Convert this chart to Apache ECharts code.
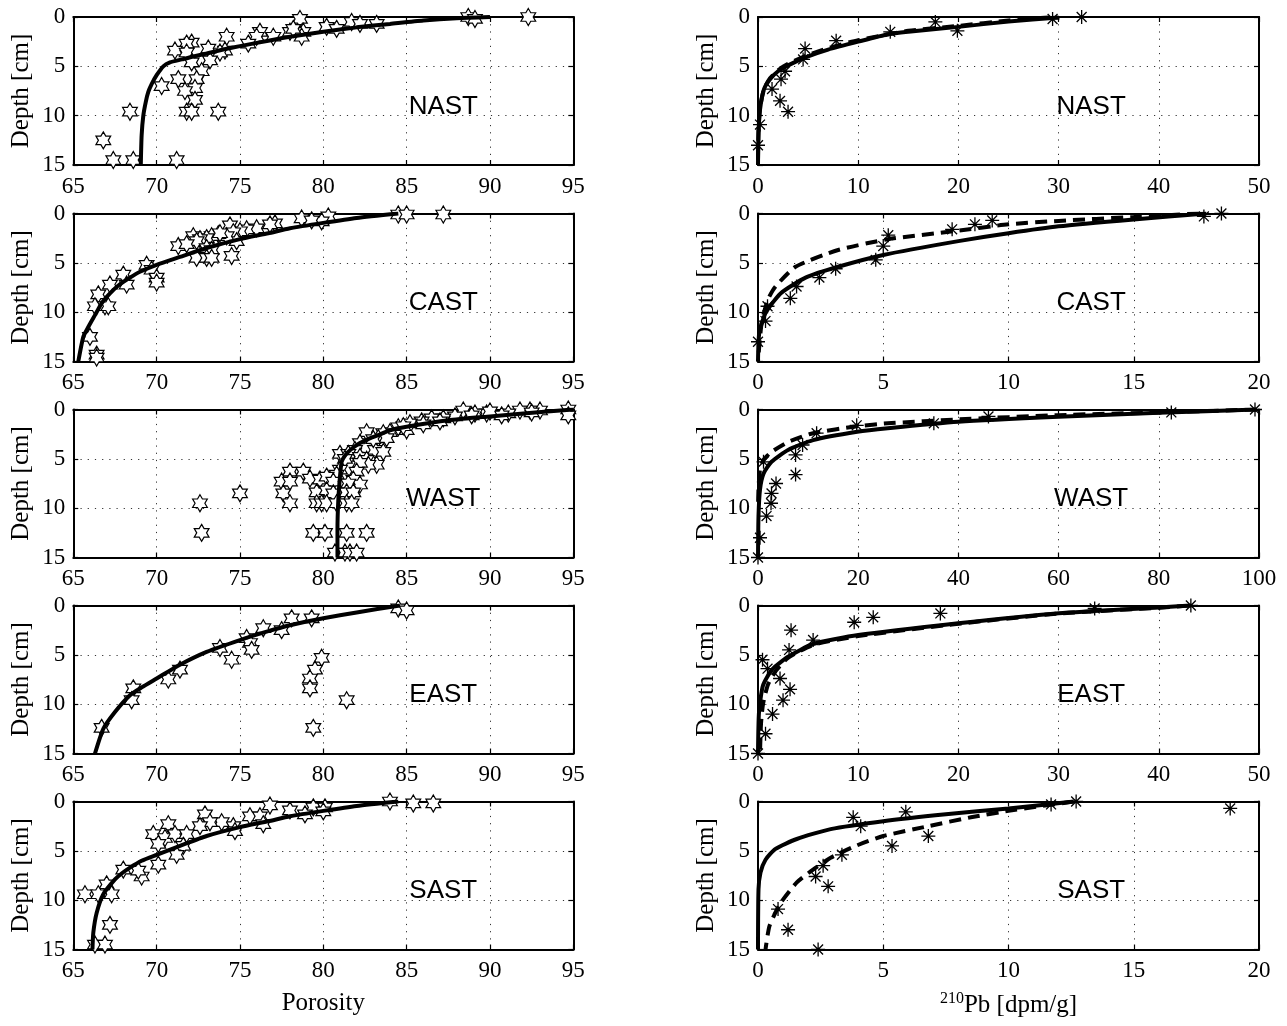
<!DOCTYPE html>
<html>
<head>
<meta charset="utf-8">
<script src="https://cdn.jsdelivr.net/npm/echarts@6/dist/echarts.min.js"></script>
<style>html,body{margin:0;padding:0;background:#fff}#c{width:1287px;height:1026px}</style>
</head>
<body>
<div id="c"></div>
<script>
// ---------- DATA ----------
const stations = ['NAST', 'CAST', 'WAST', 'EAST', 'SAST'];
const porosityTicks = [65, 70, 75, 80, 85, 90, 95];
const depthTicks = [0, 5, 10, 15];
const pbMax = [50, 20, 100, 50, 20];
const pbStep = [10, 5, 20, 10, 5];

// porosity measurements [porosity, depth]
const nastPorPts = [[78.6,0.2],[88.7,0],[89.1,0.2],[92.3,0],[80.2,1.0],[80.8,1.2],[81.7,0.5],[82.2,0.7],[83.2,0.7],[78.0,1.5],[78.8,1.5],[78.7,2.0],[78.2,1.2],[77.0,2.0],[76.2,1.5],[76.0,2.0],[75.5,2.7],[74.2,2.0],[74.1,3.4],[73.8,3.6],[73.1,3.2],[73.2,4.4],[72.1,2.6],[71.8,2.7],[71.1,3.4],[71.8,3.6],[72.1,4.6],[72.7,5.5],[72.4,6.3],[71.3,6.3],[72.3,7.2],[71.7,7.5],[72.3,8.4],[70.3,7.0],[71.8,9.6],[72.1,9.6],[73.7,9.6],[68.4,9.6],[66.8,12.5],[67.4,14.5],[68.6,14.5],[71.2,14.5]];
const castPorPts = [[84.5,0.1],[85.0,0.1],[87.2,0.1],[80.3,0.3],[79.9,0.8],[78.7,0.5],[79.3,0.7],[77.1,1.0],[76.8,1.1],[76.0,1.5],[75.4,1.6],[75.0,1.8],[74.4,1.2],[74.6,1.9],[74.8,2.8],[74.2,2.3],[73.7,2.1],[73.3,2.3],[73.0,2.5],[73.8,2.0],[72.2,2.3],[72.6,2.6],[72.4,2.8],[71.3,3.3],[71.8,3.1],[73.0,3.5],[73.3,3.7],[72.4,4.5],[73.0,4.5],[73.3,4.5],[74.5,4.3],[69.4,5.2],[69.7,5.7],[68.0,6.2],[68.2,7.2],[67.2,7.2],[70.0,6.5],[70.0,7.0],[66.5,8.2],[66.3,9.4],[66.9,9.4],[67.1,9.4],[66.0,12.5],[66.4,14.3],[66.4,14.6]];
const wastPorPts = [[94.7,0],[94.7,0.6],[93,0.1],[92.4,0.1],[91.8,0.1],[91.1,0.4],[90.7,0.6],[89.8,0.4],[89.1,0.4],[88.4,0.1],[88.9,0.6],[87.9,0.7],[87.2,0.9],[86.5,0.9],[85.9,1.2],[85.2,1.4],[84.5,1.8],[85.0,2.1],[84.0,2.3],[83.6,2.4],[83.3,2.9],[82.6,2.3],[83.8,2.9],[82.2,3.4],[82.6,3.9],[83.1,4.1],[83.6,4.3],[81.9,4.1],[81.0,4.5],[81.5,4.5],[81.3,5.0],[82.2,4.8],[82.6,5.1],[83.2,5.6],[82.7,5.6],[82.2,5.4],[81.0,6.1],[80.8,6.6],[82.0,6.3],[81.8,7.1],[82.2,7.6],[81.5,7.5],[78.0,6.3],[78.8,6.3],[79.2,7.0],[79.8,7.1],[80.2,6.8],[80.6,7.3],[77.5,7.3],[78.0,7.3],[77.6,8.5],[78.0,9.5],[79.6,8.4],[80.2,8.2],[80.6,8.5],[81.4,8.4],[81.8,8.4],[79.6,9.5],[79.9,9.5],[80.2,9.5],[80.8,9.5],[81.4,9.5],[81.7,9.5],[75.0,8.5],[72.6,9.5],[72.7,12.5],[79.4,12.5],[80.1,12.5],[81.4,12.5],[82.6,12.5],[80.7,14.5],[81.3,14.5],[81.6,14.5],[82.0,14.5],[86.0,1.5],[87.0,1.2],[84.8,1.7],[83.0,3.0],[92.5,0.3],[90.0,0.2]];
const eastPorPts = [[84.5,0.3],[85.0,0.5],[78.1,1.3],[79.3,1.3],[77.5,2.5],[76.4,2.3],[75.4,3.3],[75.6,3.8],[75.7,4.5],[73.8,4.3],[74.5,5.5],[79.9,5.3],[79.5,6.5],[79.2,7.4],[79.2,8.4],[81.4,9.6],[79.4,12.4],[71.4,6.5],[70.7,7.5],[68.6,8.4],[68.5,9.6],[66.7,12.4]];
const sastPorPts = [[84.0,0],[85.4,0.2],[86.6,0.2],[76.8,0.4],[79.4,0.6],[80.1,0.6],[80.0,1.0],[78.0,0.9],[78.9,1.3],[75.6,1.5],[76.2,1.5],[76.4,2.3],[74.6,2.5],[74.7,3.0],[73.9,2.1],[72.9,1.3],[73.2,2.1],[72.6,2.5],[70.7,2.3],[69.8,3.3],[70.5,3.7],[70.1,4.3],[71.1,3.3],[71.8,3.3],[71.6,4.5],[71.2,5.4],[70.1,6.4],[69.1,7.6],[68.9,7.0],[68.0,6.9],[67.0,8.4],[65.7,9.4],[66.5,9.4],[67.3,9.4],[67.2,12.5],[66.3,14.5],[66.9,14.5]];

// porosity model curves [porosity, depth]
const nastPorFit = [[90,0],[88,0.12],[86,0.35],[84,0.7],[82,1.05],[80,1.5],[78,2.0],[76.7,2.4],[75,2.95],[74,3.3],[73,3.7],[72.2,4.0],[71.5,4.3],[70.8,4.6],[70.4,5.0],[70.0,5.9],[69.7,6.8],[69.5,7.6],[69.35,8.6],[69.2,10],[69.1,12],[69.05,15]];
const castPorFit = [[84.5,0],[82,0.45],[80,0.95],[78,1.5],[76.7,2.0],[75,2.6],[73,3.5],[71.4,4.4],[70,5.2],[69,5.9],[68.4,6.5],[67.7,7.3],[67.2,8.1],[66.7,9.1],[66.3,10.3],[65.9,11.5],[65.6,12.5],[65.3,15]];
const wastPorFit = [[95,0],[92,0.4],[90,0.7],[87.5,1.1],[85,1.75],[84,2.1],[83.3,2.6],[82.7,3.0],[82.2,3.4],[81.8,3.85],[81.5,4.3],[81.25,4.8],[81.1,5.3],[81.0,6.8],[80.9,9.2],[80.85,12.2],[80.85,15]];
const eastPorFit = [[84.6,0],[82,0.7],[80,1.3],[78,2.0],[76.7,2.6],[75,3.5],[73,4.7],[71.4,6.0],[70,7.4],[69.1,8.3],[68.4,9.1],[67.5,10.8],[66.8,12.5],[66.3,15]];
const sastPorFit = [[84.5,0],[82,0.45],[80,0.95],[78,1.5],[76.7,2.0],[75,2.6],[73,3.5],[71.4,4.5],[70,5.4],[69.1,6.0],[68.4,6.7],[67.9,7.3],[67.5,7.9],[66.8,9.4],[66.4,11.3],[66.2,13.3],[66.15,15]];

// 210Pb measurements [dpm/g, depth]
const nastPbPts = [[32.3,0],[29.4,0.2],[17.7,0.5],[19.9,1.4],[13.2,1.5],[7.8,2.4],[4.7,3.2],[4.5,4.3],[2.7,5.5],[2.3,6.3],[1.4,7.3],[2.2,8.5],[3.0,9.6],[0.2,10.9],[0,13.0]];
const castPbPts = [[18.5,0],[17.8,0.3],[9.35,0.7],[8.66,1.1],[7.75,1.6],[5.2,2.2],[5.0,3.3],[4.7,4.7],[3.1,5.6],[2.45,6.5],[1.54,7.4],[1.29,8.6],[0.38,9.4],[0.3,10.9],[0,13.0]];
const wastPbPts = [[99.2,0],[82.5,0.3],[46,0.7],[35.1,1.4],[19.7,1.6],[11.7,2.4],[8.9,3.6],[7.5,4.6],[7.5,6.6],[3.6,7.5],[2.7,8.5],[2.6,9.5],[1.7,10.8],[0.4,13.0],[0,15],[1.1,5.3]];
const eastPbPts = [[43.2,0],[33.6,0.3],[18.2,0.8],[11.5,1.2],[9.6,1.7],[3.3,2.5],[5.5,3.5],[3.1,4.5],[0.45,5.5],[0.95,6.4],[2.2,7.4],[3.2,8.5],[2.5,9.6],[1.45,11.0],[0.75,13.0],[0,15.0]];
const sastPbPts = [[18.85,0.7],[12.7,0],[11.7,0.3],[5.9,1.05],[3.8,1.6],[4.1,2.5],[6.8,3.5],[5.35,4.5],[3.35,5.4],[2.6,6.5],[2.3,7.6],[2.8,8.6],[0.8,10.9],[1.2,13.0],[2.4,15.0]];

// 210Pb model curves: solid (A) and dashed (B)
const nastPbFitA = [[30,0.05],[25,0.45],[20,1.0],[15,1.5],[13,1.75],[10,2.5],[7,3.3],[5,4.0],[3,4.9],[2,5.5],[1.2,6.3],[0.6,7.3],[0.2,9.4],[0.05,11.8],[0,15]];
const nastPbFitB = [[29,0.05],[25,0.35],[20,0.9],[15,1.4],[10,2.35],[7,3.15],[5,3.85],[3,4.75],[2,5.4],[1.2,6.2],[0.6,7.3],[0.2,9.2],[0.05,11.5],[0,14.5]];
const castPbFitA = [[17.9,0],[15,0.6],[12,1.3],[10,2.0],[8,2.8],[5,4.2],[3.2,5.4],[1.9,6.5],[0.9,8.1],[0.3,10.1],[0.05,12.1],[0,15]];
const castPbFitB = [[17.6,0],[15,0.35],[12,0.75],[10,1.1],[7.8,1.8],[5.2,2.6],[3.2,3.7],[1.5,5.4],[0.7,7.4],[0.4,8.7],[0.15,11],[0,15]];
const wastPbFitA = [[99.5,0],[80,0.34],[60,0.74],[40,1.25],[25.9,1.9],[19.8,2.26],[11,3.1],[6,4.1],[2.7,5.3],[1.1,6.5],[0.4,8.1],[0.1,10.8],[0,15]];
const wastPbFitB = [[99.5,0],[80,0.3],[60,0.57],[40,1.0],[25.9,1.4],[19.8,1.7],[11,2.4],[6,3.3],[2.7,4.3],[1.1,5.1],[0.4,6.1],[0.1,8],[0,10]];
const eastPbFitA = [[43.2,0],[40,0.2],[30,0.78],[20,1.8],[10,3.0],[5.5,3.9],[3,5.2],[1.4,6.5],[0.5,8.1],[0.1,10.8],[0,15]];
const eastPbFitB = [[43,0],[40,0.22],[30,0.82],[20,1.85],[10,3.1],[5.5,4.0],[3,5.3],[1.8,6.6],[1.0,8.0],[0.5,10],[0.3,12],[0.2,15]];
const sastPbFitA = [[12.6,0],[10,0.7],[7.5,1.3],[5,2.0],[2.9,2.8],[1.55,3.8],[0.7,4.8],[0.3,5.9],[0.1,7.2],[0.02,8.9],[0,15]];
const sastPbFitB = [[12.6,0],[10,0.95],[8.5,1.6],[6.8,2.5],[5,3.5],[3.9,4.5],[2.9,5.7],[2.2,6.9],[1.55,8.2],[0.9,10.3],[0.46,12.6],[0.3,15]];

const porPts = [nastPorPts, castPorPts, wastPorPts, eastPorPts, sastPorPts];
const porFit = [nastPorFit, castPorFit, wastPorFit, eastPorFit, sastPorFit];
const pbPts = [nastPbPts, castPbPts, wastPbPts, eastPbPts, sastPbPts];
const pbFitA = [nastPbFitA, castPbFitA, wastPbFitA, eastPbFitA, sastPbFitA];
const pbFitB = [nastPbFitB, castPbFitB, wastPbFitB, eastPbFitB, sastPbFitB];

// ---------- LAYOUT / STYLE ----------
const SERIF = 'Liberation Serif';
const SANS = 'Liberation Sans';
const tops = [17, 213.5, 409.5, 605.5, 801.5];
const H = 148;
const colLeft = [73.3, 758];
const colW = [500, 501];

function hexagramPath() {
  let s = '';
  for (let k = 0; k < 12; k++) {
    const a = (-90 + 30 * k) * Math.PI / 180;
    const r = (k % 2 === 0) ? 10 : 10 / Math.sqrt(3);
    s += (k === 0 ? 'M' : 'L') + (r * Math.cos(a)).toFixed(3) + ',' + (r * Math.sin(a)).toFixed(3);
  }
  return 'path://' + s + 'Z';
}
const HEX = hexagramPath();
const AST = 'path://M0,-10L0,10M-10,0L10,0M-7.07,-7.07L7.07,7.07M-7.07,7.07L7.07,-7.07';

const grids = [], xAxes = [], yAxes = [], series = [];
const gridLine = { show: true, lineStyle: { color: '#333', width: 1, type: [1.2, 6] } };
const frame = { show: true, onZero: false, lineStyle: { color: '#000', width: 2 } };
const tick = { show: true, inside: true, length: 5, lineStyle: { color: '#000', width: 1.2 } };

function addPanel(row, col) {
  const g = grids.length;
  grids.push({ left: colLeft[col], top: tops[row], width: colW[col], height: H, containLabel: false });
  const xmin = col === 0 ? porosityTicks[0] : 0;
  const xmax = col === 0 ? porosityTicks[porosityTicks.length - 1] : pbMax[row];
  const xint = col === 0 ? 5 : pbStep[row];
  const last = row === stations.length - 1;
  let xname = '', nameStyle = {};
  if (last && col === 0) {
    xname = 'Porosity';
    nameStyle = { fontFamily: SERIF, fontSize: 25, color: '#000' };
  } else if (last && col === 1) {
    xname = '{sup|210}{b|Pb [dpm/g]}';
    nameStyle = { fontFamily: SERIF, color: '#000', rich: {
      sup: { fontFamily: SERIF, fontSize: 16, color: '#000', padding: [0, 0, 11, 0], verticalAlign: 'bottom' },
      b: { fontFamily: SERIF, fontSize: 25, color: '#000', verticalAlign: 'bottom' } } };
  }
  xAxes.push({
    gridIndex: g, type: 'value', position: 'bottom', min: xmin, max: xmax, interval: xint,
    axisLine: frame, axisTick: tick, splitLine: gridLine,
    axisLabel: { show: true, margin: 10, fontFamily: SERIF, fontSize: 23, color: '#000', showMinLabel: true, showMaxLabel: true },
    name: xname, nameLocation: 'middle', nameGap: 41, nameTextStyle: nameStyle
  });
  xAxes.push({
    gridIndex: g, type: 'value', position: 'top', min: xmin, max: xmax, interval: xint,
    axisLine: frame, axisTick: tick, splitLine: { show: false }, axisLabel: { show: false }
  });
  yAxes.push({
    gridIndex: g, type: 'value', position: 'left', inverse: true,
    min: depthTicks[0], max: depthTicks[depthTicks.length - 1], interval: 5,
    axisLine: frame, axisTick: tick, splitLine: gridLine,
    axisLabel: { show: true, margin: 8, fontFamily: SERIF, fontSize: 23, color: '#000', showMinLabel: true, showMaxLabel: true },
    name: 'Depth [cm]', nameLocation: 'middle', nameGap: 39, nameRotate: 90,
    nameTextStyle: { fontFamily: SERIF, fontSize: 25, color: '#000' }
  });
  yAxes.push({
    gridIndex: g, type: 'value', position: 'right', inverse: true,
    min: depthTicks[0], max: depthTicks[depthTicks.length - 1], interval: 5,
    axisLine: frame, axisTick: tick, splitLine: { show: false }, axisLabel: { show: false }
  });
  const xi = 2 * g, yi = 2 * g;
  const pts = col === 0 ? porPts[row] : pbPts[row];
  series.push({
    type: 'scatter', xAxisIndex: xi, yAxisIndex: yi, data: pts, z: 2,
    symbol: col === 0 ? HEX : AST, symbolKeepAspect: true,
    symbolSize: col === 0 ? 17 : 14,
    itemStyle: col === 0 ? { color: '#fff', borderColor: '#000', borderWidth: 1.2, opacity: 1 }
                         : { color: 'rgba(0,0,0,0)', borderColor: '#000', borderWidth: 1.3, opacity: 1 },
    silent: true
  });
  const lineBase = { type: 'line', xAxisIndex: xi, yAxisIndex: yi, showSymbol: false, symbol: 'none', smooth: 0.2, z: 3, silent: true };
  if (col === 0) {
    series.push(Object.assign({}, lineBase, { data: porFit[row], lineStyle: { color: '#000', width: 4 } }));
  } else {
    series.push(Object.assign({}, lineBase, { data: pbFitB[row], lineStyle: { color: '#000', width: 4, type: [12, 7], cap: 'butt' } }));
    series.push(Object.assign({}, lineBase, { data: pbFitA[row], lineStyle: { color: '#000', width: 4 } }));
  }
  // station label, placed through the panel's own axes
  const lx = col === 0 ? xmin + 0.74 * (xmax - xmin) : xmin + 0.665 * (xmax - xmin);
  series.push({
    type: 'scatter', xAxisIndex: xi, yAxisIndex: yi, z: 5, silent: true,
    symbol: 'circle', symbolSize: 1, itemStyle: { color: 'rgba(255,255,255,0)', opacity: 1 },
    data: [[lx, 9.1]],
    label: { show: true, position: 'inside', formatter: stations[row], fontFamily: SANS, fontSize: 26,
             color: '#000', opacity: 1, textBorderWidth: 0 }
  });
}

for (let r = 0; r < stations.length; r++) { addPanel(r, 0); addPanel(r, 1); }

const chart = echarts.init(document.getElementById('c'), null, { renderer: 'canvas' });
chart.setOption({
  backgroundColor: '#fff',
  animation: false,
  grid: grids, xAxis: xAxes, yAxis: yAxes, series: series
});
</script>
</body>
</html>
